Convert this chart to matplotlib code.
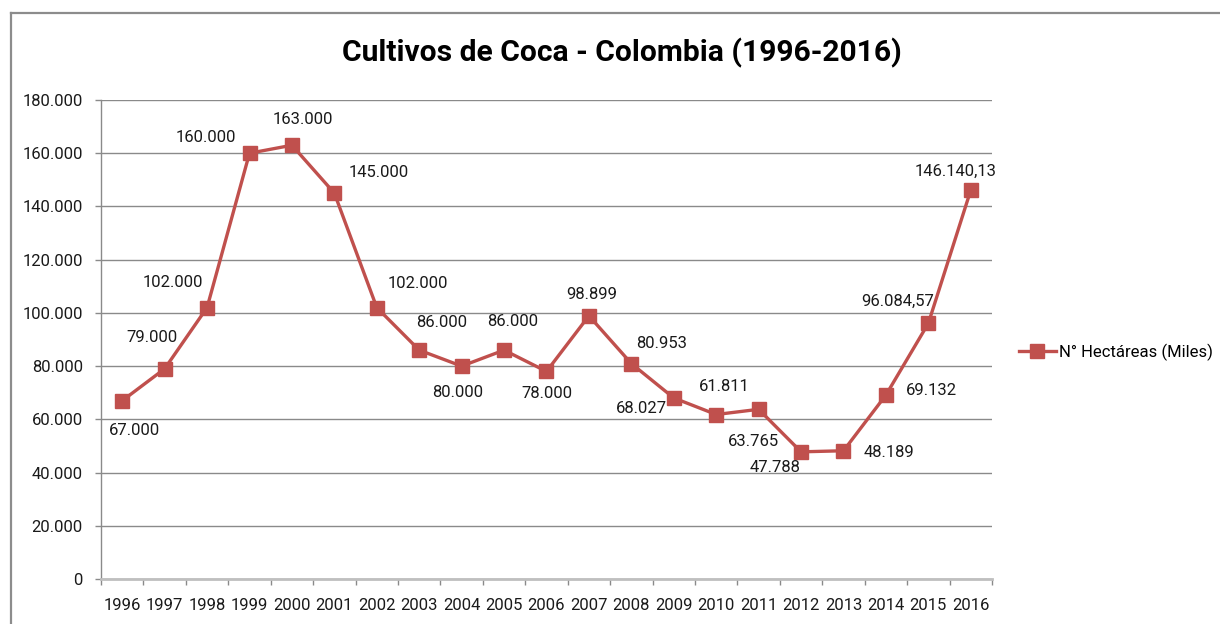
import matplotlib
matplotlib.use("Agg")
import matplotlib.pyplot as plt
from matplotlib.lines import Line2D

years = ["1996", "1997", "1998", "1999", "2000", "2001", "2002", "2003", "2004",
         "2005", "2006", "2007", "2008", "2009", "2010", "2011", "2012", "2013",
         "2014", "2015", "2016"]
hectares = [67000, 79000, 102000, 160000, 163000, 145000, 102000, 86000, 80000,
            86000, 78000, 98899, 80953, 68027, 61811, 63765, 47788, 48189,
            69132, 96084.57, 146140.13]
point_labels = ["67.000", "79.000", "102.000", "160.000", "163.000", "145.000",
                "102.000", "86.000", "80.000", "86.000", "78.000", "98.899",
                "80.953", "68.027", "61.811", "63.765", "47.788", "48.189",
                "69.132", "96.084,57", "146.140,13"]
y_ticks = [0, 20000, 40000, 60000, 80000, 100000, 120000, 140000, 160000, 180000]
y_tick_labels = ["0", "20.000", "40.000", "60.000", "80.000", "100.000",
                 "120.000", "140.000", "160.000", "180.000"]
title = "Cultivos de Coca - Colombia (1996-2016)"
series_name = "N° Hectáreas (Miles)"

# label offsets in pixels (style)
label_offsets = [(12, -30), (-13, 31), (-34, 25), (-44, 16), (11, 26), (44, 21),
                 (41, 24), (22, 28), (-4, -26), (9, 29), (0, -22), (3, 21),
                 (30, 20), (-32, -11), (8, 28), (-5, -32), (-26, -16), (46, -2),
                 (46, 5), (-31, 22), (-15, 19)]

FONT = ["Roboto", "DejaVu Sans"]
RED = "#C0504D"
TXT = "#1a1a1a"
fs = 12

W, H = 1220, 624
fig = plt.figure(figsize=(W / 100, H / 100), dpi=100)
ax = fig.add_axes([101 / W, 1 - 579 / H, (992 - 101) / W, (579 - 100) / H])

x = list(range(len(years)))
ax.plot(x, hectares, color=RED, lw=2.4, marker="s", markersize=10.5,
        markerfacecolor=RED, markeredgecolor=RED, zorder=3, clip_on=False)

for xi, yi, lab, (dx, dy) in zip(x, hectares, point_labels, label_offsets):
    ax.annotate(lab, (xi, yi), xytext=(dx, dy), textcoords="offset pixels",
                ha="center", va="center", fontsize=fs, family=FONT, color=TXT)

ax.set_xlim(-0.5, len(years) - 0.5)
ax.set_ylim(0, 180000)
ax.set_yticks(y_ticks)
ax.set_yticklabels(y_tick_labels, family=FONT, fontsize=fs, color=TXT)
ax.set_xticks(x)
ax.set_xticklabels(years, family=FONT, fontsize=fs, color=TXT)
ax.set_xticks([i - 0.5 for i in range(len(years) + 1)], minor=True)
ax.tick_params(axis="x", which="major", length=0, pad=14)
ax.tick_params(axis="x", which="minor", length=4, width=1, color="#8a8a8a", direction="out")
ax.tick_params(axis="y", which="major", length=4, width=1, color="#8a8a8a", pad=9)

ax.grid(axis="y", color="#8a8a8a", lw=1)
ax.set_axisbelow(True)
for s in ["top", "right"]:
    ax.spines[s].set_visible(False)
ax.spines["left"].set_color("#8a8a8a")
ax.spines["left"].set_linewidth(1)
ax.spines["bottom"].set_color("#bfbfbf")
ax.spines["bottom"].set_linewidth(2)
ax.spines["bottom"].set_zorder(2.5)

fig.text(622 / W, 1 - 53 / H, title, ha="center", va="center",
         fontsize=21.6, fontweight="bold", family=FONT, color="black")

handle = Line2D([], [], color=RED, lw=2.4, marker="s", markersize=10.5,
                markerfacecolor=RED, markeredgecolor=RED)
fig.legend([handle], [series_name], loc="center left",
           bbox_to_anchor=(1019 / W, 1 - 352 / H), frameon=False,
           prop={"family": FONT, "size": fs}, handlelength=2.2,
           handletextpad=0.2, borderaxespad=0, borderpad=0)

# outer chart frame (only top and left edges visible)
fx, fy = 11 / W, 1 - 13 / H
fig.add_artist(Line2D([fx, 1.0], [fy, fy], transform=fig.transFigure,
                      color="#8c8c8c", lw=1.6))
fig.add_artist(Line2D([fx, fx], [0.0, fy], transform=fig.transFigure,
                      color="#8c8c8c", lw=1.6))

fig.savefig("out.png", dpi=100)
